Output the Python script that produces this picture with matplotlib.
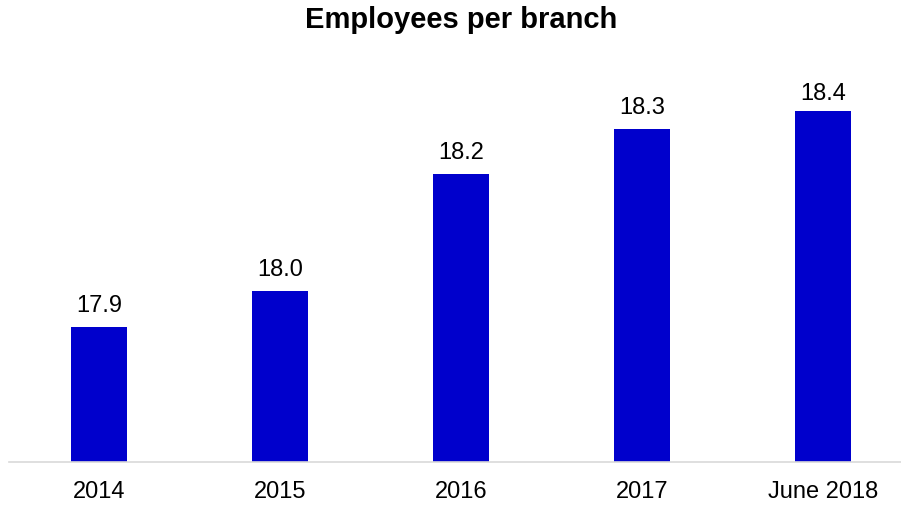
import matplotlib
matplotlib.use("Agg")
import matplotlib.pyplot as plt
from matplotlib.transforms import blended_transform_factory

categories = ["2014", "2015", "2016", "2017", "June 2018"]
values = [17.89, 17.97, 18.23, 18.33, 18.37]
labels = ["17.9", "18.0", "18.2", "18.3", "18.4"]

plt.rcParams['font.family'] = ['Liberation Sans', 'DejaVu Sans']

W, H = 901, 506
fig = plt.figure(figsize=(W / 100, H / 100), dpi=100)
# axes in pixel coords
left, right, bottom, top = 8.5, 913.5, 462.5, 60
ax = fig.add_axes([left / W, 1 - bottom / H, (right - left) / W, (bottom - top) / H])

x = range(len(categories))
ax.bar(x, values, width=0.31, color="#0000CC", zorder=2)
ymin = 17.592
ax.set_ylim(ymin, ymin + (bottom - top) / 450)
ax.set_xlim(-0.5, 4.5)

# labels sit ~16px above bars, but never above a ceiling (pixel row ~100 from top)
fig.canvas.draw()
ceiling_px = H - 105  # display y of max label baseline-bottom
for xi, v, lab in zip(x, values, labels):
    bar_top_disp = ax.transData.transform((xi, v))[1]
    y_disp = min(bar_top_disp + 11, ceiling_px)
    y_ax = ax.transAxes.inverted().transform((0, y_disp))[1]
    tr = blended_transform_factory(ax.transData, ax.transAxes)
    ax.text(xi, y_ax, lab, transform=tr, ha="center", va="bottom",
            fontsize=17, color="#000000")

ax.set_xticks(list(x))
ax.set_xticklabels(categories, fontsize=17)
ax.tick_params(axis="x", length=0, pad=13)
ax.set_yticks([])
for s in ["top", "right", "left"]:
    ax.spines[s].set_visible(False)
ax.spines["bottom"].set_color("#d9d9d9")
ax.spines["bottom"].set_linewidth(1.2)

fig.text(461 / W, 1 - 20 / H, "Employees per branch", ha="center", va="center",
         fontsize=21, fontweight="bold")

fig.savefig("out.png", dpi=100)
